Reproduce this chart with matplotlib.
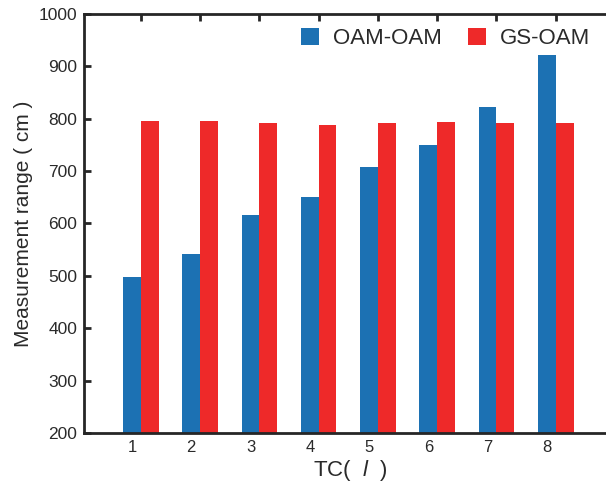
import matplotlib
matplotlib.use("Agg")
import matplotlib.pyplot as plt
import numpy as np

# Topological charge values and measured ranges (cm)
tc = [1, 2, 3, 4, 5, 6, 7, 8]
oam_oam = [498, 541, 616, 650, 707, 750, 823, 922]
gs_oam = [795, 795, 791, 789, 791, 793, 791, 791]
series_names = ["OAM-OAM", "GS-OAM"]
yticks = [200, 300, 400, 500, 600, 700, 800, 900, 1000]

plt.rcParams["font.family"] = ["Liberation Sans", "DejaVu Sans"]
plt.rcParams["mathtext.fontset"] = "custom"
plt.rcParams["mathtext.rm"] = "Liberation Sans"
plt.rcParams["mathtext.it"] = "Liberation Sans:italic"

BLUE = "#1c71b3"
RED = "#ee2929"
TEXT = "#2a2a2a"
SPINE = "#262626"

W, H = 606, 488
fig = plt.figure(figsize=(W / 100, H / 100), dpi=100)
left, right, top, bottom = 84, 615, 14, 433
ax = fig.add_axes([left / W, 1 - bottom / H, (right - left) / W, (bottom - top) / H])

x = np.array(tc, dtype=float)
bw = 0.3
ax.bar(x - bw / 2, oam_oam, width=bw, color=BLUE, label=series_names[0], zorder=2)
ax.bar(x + bw / 2, gs_oam, width=bw, color=RED, label=series_names[1], zorder=2)

ax.set_xlim(0.04, 9.0)
ax.set_ylim(200, 1000)

for side in ("left", "top", "bottom"):
    ax.spines[side].set_linewidth(2)
    ax.spines[side].set_color(SPINE)
ax.spines["right"].set_visible(False)

# Major ticks mark the group boundaries; labels sit under the first bar
ax.set_xticks(x)
ax.set_xticklabels([])
ax.set_xticks(x - bw / 2, minor=True)
ax.set_xticklabels([str(v) for v in tc], minor=True)
ax.tick_params(axis="x", which="major", direction="in", top=True, bottom=False,
               length=5, width=2, color=SPINE)
ax.tick_params(axis="x", which="minor", length=0, pad=5, labelsize=12, labelcolor=TEXT)

ax.set_yticks(yticks)
ax.tick_params(axis="y", direction="in", length=5, width=2, color=SPINE,
               pad=5, labelsize=12.5, labelcolor=TEXT)

ax.set_ylabel("Measurement range ( cm )", fontsize=15, color=TEXT, labelpad=4)
ax.set_xlabel(r"TC( $\ \mathit{l}\ $ )", fontsize=16, color=TEXT)
ax.xaxis.set_label_coords((350 - left) / (right - left), -0.06, transform=ax.transAxes)
ax.xaxis.label.set_verticalalignment("top")

fig.legend(loc="upper left", bbox_to_anchor=(301 / W, 1 - 28 / H), ncol=2,
           frameon=False, fontsize=16, handlelength=0.82, handleheight=0.82,
           handletextpad=0.6, columnspacing=1.2, borderpad=0, borderaxespad=0,
           labelcolor=TEXT)

fig.savefig("out.png", dpi=100)
